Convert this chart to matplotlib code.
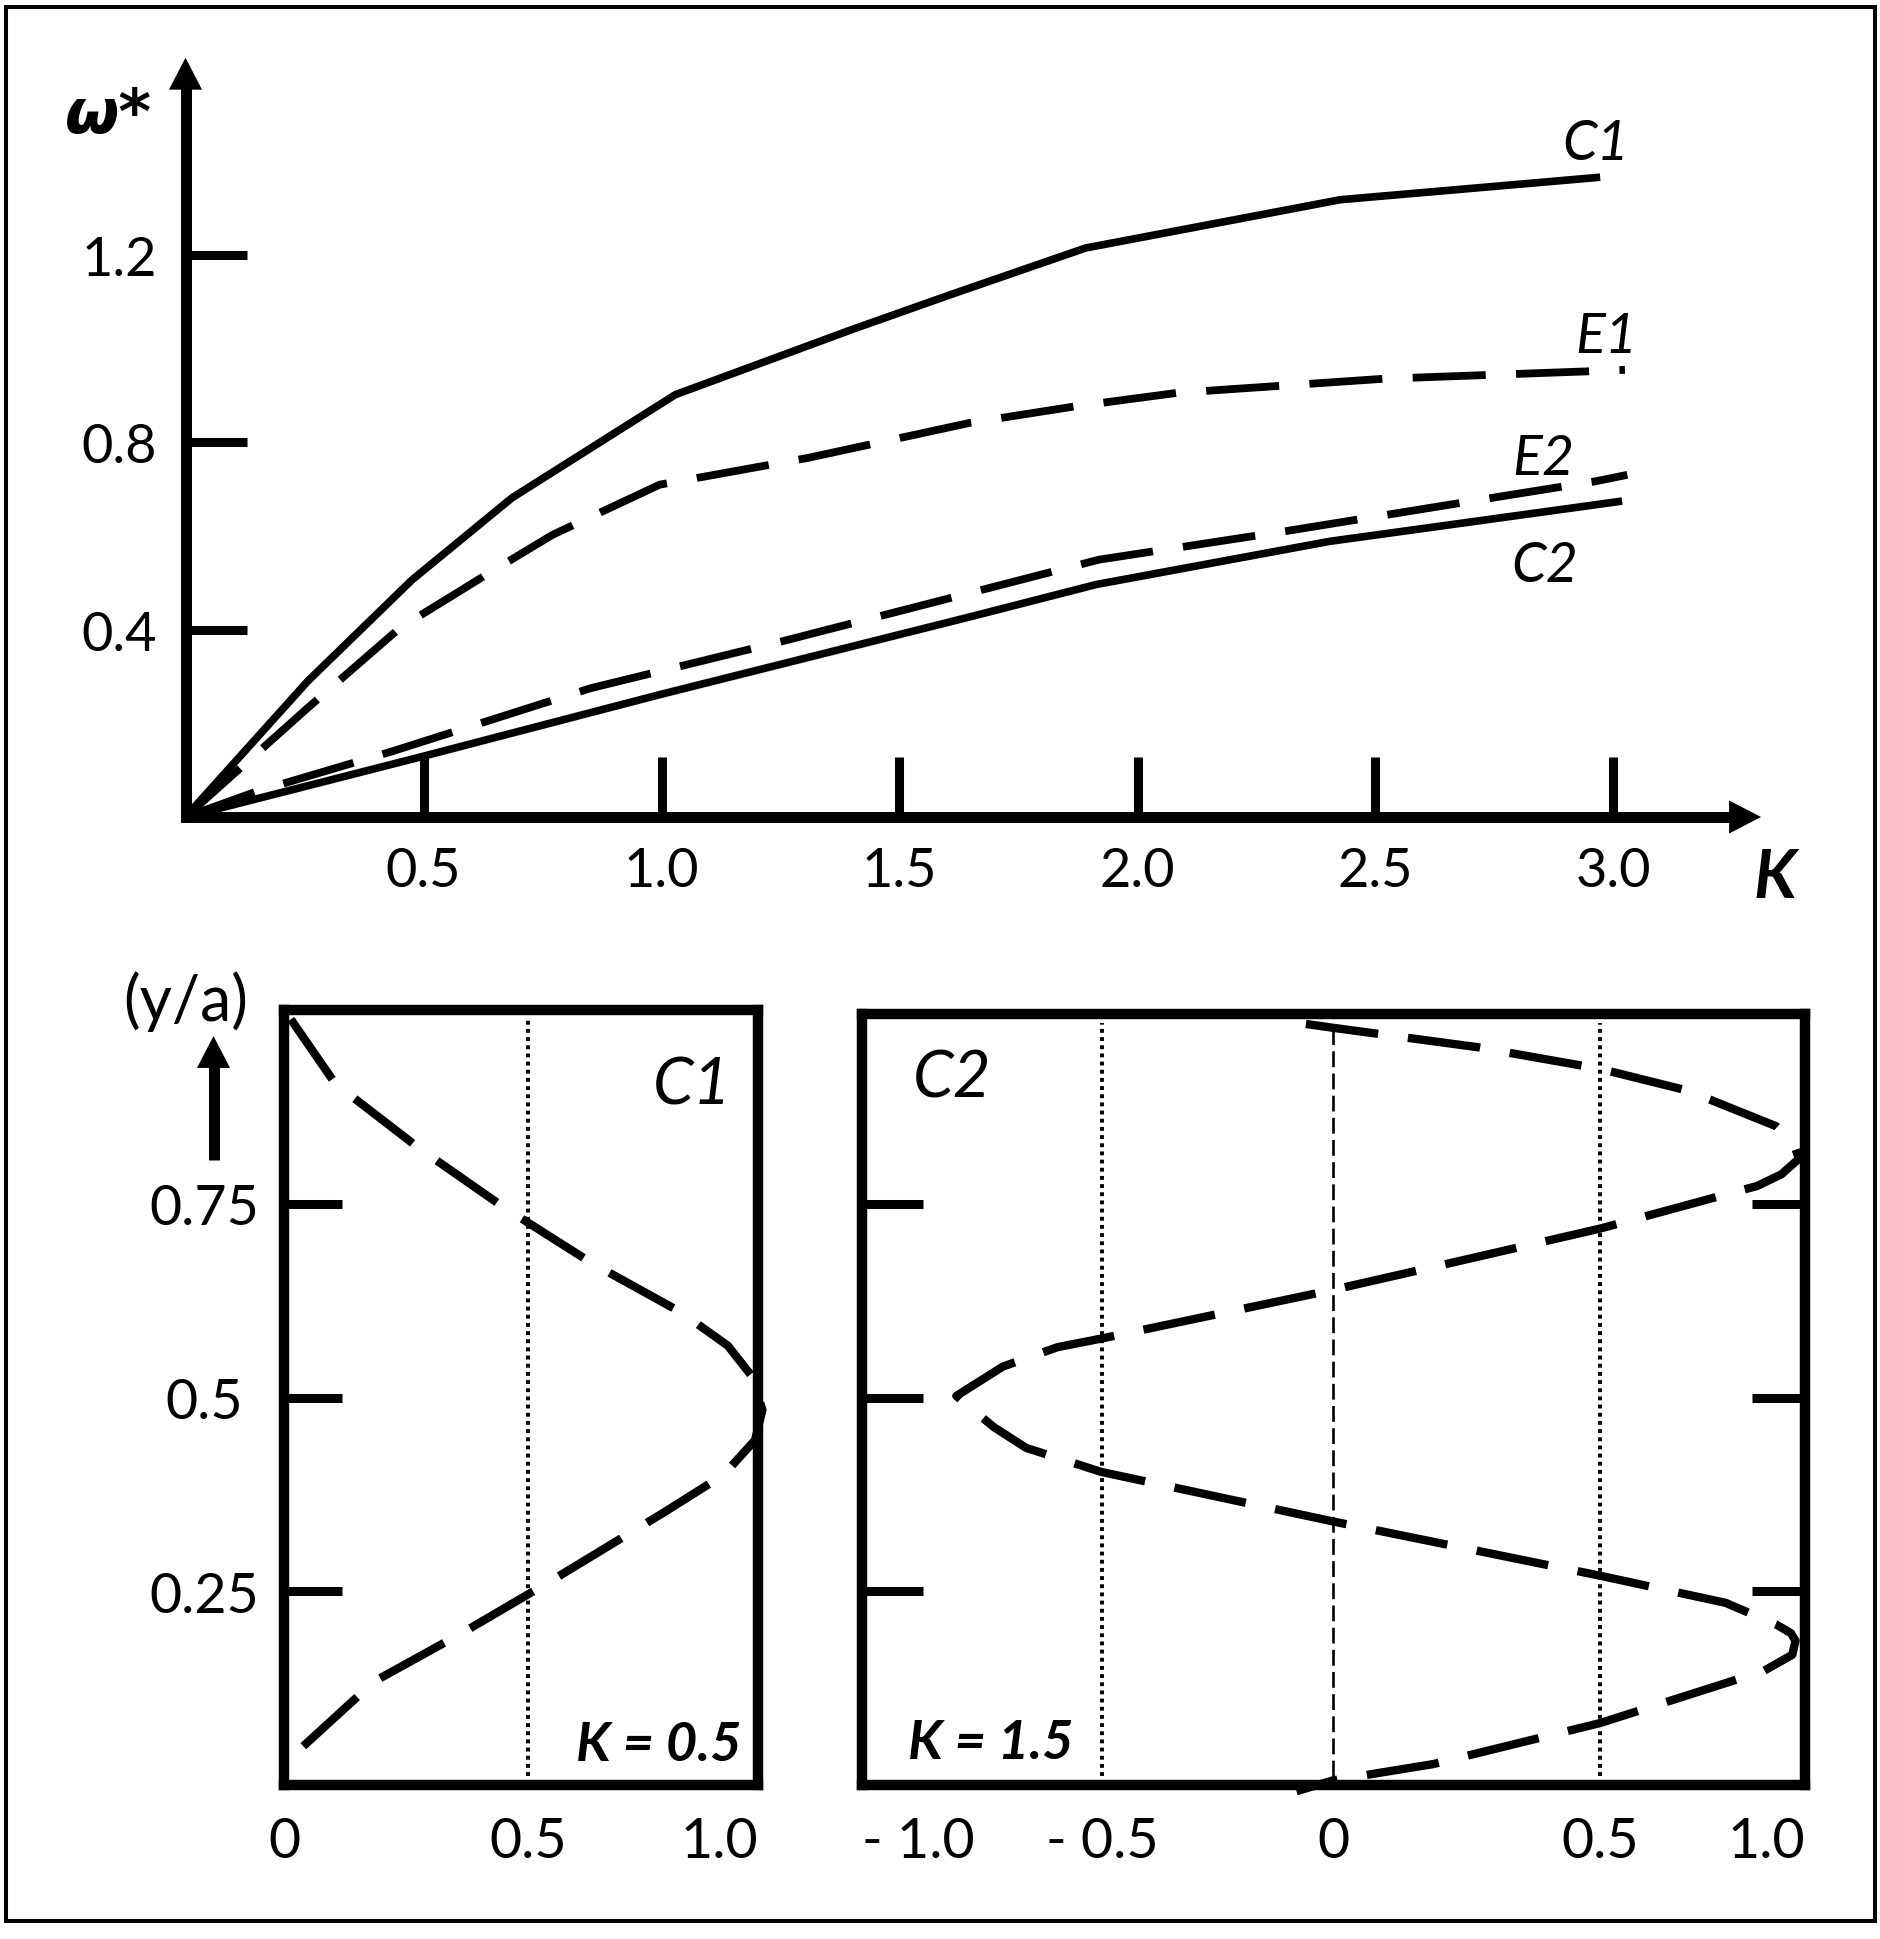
import matplotlib
matplotlib.use('Agg')
import matplotlib.pyplot as plt
import matplotlib.transforms as mtransforms
from matplotlib.patches import Rectangle
from matplotlib.lines import Line2D

plt.rcParams['font.family'] = ['Lato', 'DejaVu Sans']

# ---------------- data: top chart (omega* versus K) ----------------
c1_k = [0, 0.257, 0.476, 0.686, 1.029, 1.40, 1.606, 1.891, 2.426, 2.972]
c1_w = [0, 0.290, 0.506, 0.681, 0.901, 1.040, 1.114, 1.214, 1.317, 1.365]

e1_k = [0, 0.257, 0.450, 0.632, 0.771, 0.996, 1.307, 1.648, 1.868, 2.084, 2.517, 2.950, 3.024]
e1_w = [0, 0.233, 0.403, 0.517, 0.602, 0.709, 0.766, 0.841, 0.876, 0.905, 0.935, 0.951, 0.954]

e2_k = [0, 0.151, 0.434, 0.852, 1.254, 1.606, 1.919, 2.312, 2.745, 2.961, 3.029]
e2_w = [0, 0.055, 0.140, 0.275, 0.375, 0.467, 0.549, 0.610, 0.681, 0.716, 0.730]

c2_k = [0, 0.482, 0.996, 1.648, 1.913, 2.403, 3.018]
c2_w = [0, 0.125, 0.261, 0.427, 0.496, 0.588, 0.674]

top_xticks = [0.5, 1.0, 1.5, 2.0, 2.5, 3.0]
top_xticklabels = ['0.5', '1.0', '1.5', '2.0', '2.5', '3.0']
top_yticks = [0.4, 0.8, 1.2]
top_yticklabels = ['0.4', '0.8', '1.2']

# ---------------- data: mode shape C1, K = 0.5 ----------------
c1_amp = [0.014, 0.105, 0.278, 0.449, 0.629, 0.813, 0.909, 0.959, 0.980,
          0.965, 0.900, 0.779, 0.554, 0.370, 0.186, 0.142, 0.029]
c1_ya = [0.988, 0.905, 0.821, 0.746, 0.674, 0.610, 0.567, 0.527, 0.484,
         0.445, 0.400, 0.352, 0.266, 0.198, 0.134, 0.109, 0.044]

# ---------------- data: mode shape C2, K = 1.5 ----------------
c2_amp = [-0.058, 0.0, 0.306, 0.566, 0.751, 0.939, 0.975, 0.987, 0.950, 0.899, 0.566, 0.252,
          0.0, -0.492, -0.584, -0.700, -0.799, -0.720, -0.651, -0.492, 0.0, 0.566, 0.832,
          0.939, 0.970, 0.980, 0.973, 0.912, 0.566, 0.212, 0.0, -0.078]
c2_ya = [0.982, 0.977, 0.952, 0.924, 0.896, 0.850, 0.830, 0.808, 0.788, 0.773, 0.718, 0.674,
         0.639, 0.576, 0.565, 0.540, 0.502, 0.462, 0.435, 0.404, 0.340, 0.270, 0.235,
         0.207, 0.196, 0.186, 0.168, 0.147, 0.080, 0.027, 0.006, -0.008]

ya_ticks = [0.25, 0.5, 0.75]
ya_ticklabels = ['0.25', '0.5', '0.75']
left_xticklabels = ['0', '0.5', '1.0']
left_guides = [0.5]
right_guides = [-0.49, 0.565]
right_xticklabels = ['- 1.0', '- 0.5', '0', '0.5', '1.0']

# ---------------- figure ----------------
W, H = 1880, 1940
fig = plt.figure(figsize=(W / 100, H / 100), dpi=100)
fig.patch.set_facecolor('white')
pix = mtransforms.Affine2D().scale(1.0 / W, -1.0 / H).translate(0, 1) + fig.transFigure


def fbox(l, t, r, b):
    return [l / W, 1 - b / H, (r - l) / W, (b - t) / H]


def head(ax, tip, base, coords, hl=23, hw=11.9):
    ax.annotate('', xy=tip, xytext=base, xycoords=coords, textcoords=coords,
                arrowprops=dict(arrowstyle='-|>,head_length=%g,head_width=%g' % (hl, hw),
                                mutation_scale=1, lw=0, fc='k', ec='k',
                                shrinkA=0, shrinkB=0),
                annotation_clip=False)


DOT = (0, (1.0, 1.1))

# outer frame
fig.add_artist(Rectangle((6, 1922), 1869, -1914, transform=pix, fill=False,
                         lw=2.9, ec='k'))

# ---------------- top chart ----------------
OX, OY, SX, SY = 185.5, 818, 476, 468.7
KMAX, WMAX = 3.31, 1.62
ax = fig.add_axes(fbox(OX, OY - WMAX * SY, OX + KMAX * SX, OY))
ax.set_xlim(0, KMAX)
ax.set_ylim(0, WMAX)
ax.patch.set_alpha(0)
for s in ax.spines.values():
    s.set_visible(False)

ax.plot(c1_k, c1_w, color='k', lw=5.5, solid_capstyle='butt', clip_on=False)
ax.plot(c2_k, c2_w, color='k', lw=5.5, solid_capstyle='butt', clip_on=False)
ax.plot(e1_k, e1_w, color='k', lw=5.6, ls=(0, (9.4, 3.9)), dash_capstyle='butt', clip_on=False)
ax.plot(e2_k, e2_w, color='k', lw=5.6, ls=(0, (9.4, 3.9)), dash_capstyle='butt', clip_on=False)

# axis lines with arrow heads
ax.plot([0, KMAX - 25 / SX], [0, 0], color='k', lw=7.9, solid_capstyle='projecting', clip_on=False, zorder=3)
ax.plot([0, 0], [0, WMAX - 25 / SY], color='k', lw=7.9, solid_capstyle='projecting', clip_on=False, zorder=3)
head(ax, (KMAX, 0), (KMAX - 0.15, 0), 'data')
head(ax, (0, WMAX), (0, WMAX - 0.15), 'data')

ax.set_xticks(top_xticks, labels=top_xticklabels)
ax.set_yticks(top_yticks, labels=top_yticklabels)
ax.tick_params(axis='x', direction='in', length=43, width=6.5, pad=21, labelsize=39)
ax.tick_params(axis='y', direction='in', length=44, width=6.5, pad=20.5, labelsize=39)

ax.text(2.963, 1.404, 'C1', style='italic', fontsize=40, ha='center', va='baseline')
ax.text(2.984, 0.992, 'E1', style='italic', fontsize=40, ha='center', va='baseline')
ax.text(2.852, 0.732, 'E2', style='italic', fontsize=40, ha='center', va='baseline')
ax.text(2.856, 0.504, 'C2', style='italic', fontsize=40, ha='center', va='baseline')
ax.text(3.339, -0.171, 'K', style='italic', weight='bold', fontsize=48, ha='center', va='baseline')
ax.text(-0.162, 1.461, 'ω*', family=['DejaVu Sans'], style='italic', weight='bold',
        fontsize=45, ha='center', va='baseline')

# ---------------- bottom left: C1, K = 0.5 ----------------
XL = 0.971
ax2 = fig.add_axes(fbox(284, 1011, 758, 1786))
ax2.set_xlim(0, XL)
ax2.set_ylim(0, 1)
for s in ax2.spines.values():
    s.set_linewidth(7.5)
ax2.plot(c1_amp, c1_ya, color='k', lw=6, ls=(0, (8.75, 3.6)), dash_capstyle='butt', clip_on=False)
for g in left_guides:
    ax2.axvline(g, ymin=0.012, ymax=0.988, color='k', lw=2.8, ls=DOT)
ax2.set_yticks(ya_ticks, labels=ya_ticklabels)
ax2.tick_params(axis='y', direction='in', length=42, width=6.5, pad=57.6, labelsize=40)
for lab in ax2.get_yticklabels():
    lab.set_horizontalalignment('center')
ax2.set_xticks([0, 0.5, XL], labels=left_xticklabels)
ax2.tick_params(axis='x', length=0, pad=22, labelsize=40)
ax2.get_xticklabels()[-1].set_horizontalalignment('right')
ax2.text(0.837, 0.879, 'C1', style='italic', fontsize=47, ha='center', va='baseline')
ax2.text(0.768, 0.032, 'K = 0.5', style='italic', weight='bold', fontsize=39, ha='center', va='baseline')

# ---------------- bottom right: C2, K = 1.5 ----------------
YR = (1786 - 1015) / 775.0
ax3 = fig.add_axes(fbox(861.5, 1015, 1805, 1786))
ax3.set_xlim(-1, 1)
ax3.set_ylim(0, YR)
for s in ax3.spines.values():
    s.set_linewidth(7.5)
ax3.plot(c2_amp, c2_ya, color='k', lw=6, ls=(0, (8.75, 3.6)), dash_capstyle='butt', clip_on=False)
for g in right_guides:
    ax3.axvline(g, ymin=0.012, ymax=0.988, color='k', lw=2.8, ls=DOT)
ax3.axvline(0, ymin=0.012, ymax=0.988, color='k', lw=1.9, ls=(0, (6, 2.4)))
ax3.set_yticks(ya_ticks)
ax3.tick_params(axis='y', left=True, right=True, direction='in', length=44, width=6.5,
                labelleft=False, labelright=False)
for t in ax3.yaxis.get_major_ticks():
    t.tick2line.set_markersize(38)
ax3.set_xticks([-1.0, right_guides[0], 0, right_guides[1], 1.0], labels=right_xticklabels)
ax3.tick_params(axis='x', length=0, pad=22, labelsize=40)
xl = ax3.get_xticklabels()
xl[0].set_horizontalalignment('left')
xl[-1].set_horizontalalignment('right')
ax3.text(-0.808, 0.888, 'C2', style='italic', fontsize=47, ha='center', va='baseline')
ax3.text(-0.727, 0.035, 'K = 1.5', style='italic', weight='bold', fontsize=39, ha='center', va='baseline')

# ---------------- (y/a) label with arrow ----------------
fig.text(186, 1002, '(y/a)', transform=pix, fontsize=45, ha='center', va='center')
fig.add_artist(Line2D([213.5, 213.5], [1161, 1062], transform=pix, color='k', lw=7.9,
                      solid_capstyle='butt'))
ax_tmp = fig.add_axes([0, 0, 1, 1], facecolor='none')
ax_tmp.set_axis_off()
ax_tmp.set_zorder(-1)
head(ax_tmp, (213.5, 1037), (213.5, 1100), pix)

fig.savefig('out.png', dpi=100, facecolor='white')
